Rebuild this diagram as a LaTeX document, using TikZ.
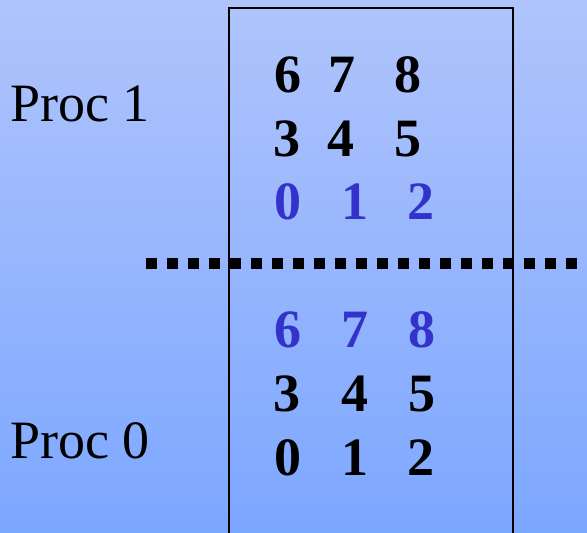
\documentclass[tikz,border=0pt]{standalone}
\usepackage{fontspec}
\setmainfont{Liberation Serif}
\definecolor{bgtop}{RGB}{176,196,252}
\definecolor{bgbot}{RGB}{124,167,255}
\definecolor{ghost}{RGB}{51,51,204}
\begin{document}
\begin{tikzpicture}[x=1pt,y=1pt,
  dig/.style={anchor=base,inner sep=0pt,font=\fontsize{54}{54}\selectfont\bfseries},
  ghostdig/.style={dig,text=ghost},
  proclabel/.style={anchor=base west,inner sep=0pt,font=\fontsize{54}{54}\selectfont}]
\useasboundingbox (0,0) rectangle (587,533);
\clip (0,0) rectangle (587,533);
\shade[top color=bgtop,bottom color=bgbot] (0,0) rectangle (587,533);
\draw[line width=1.5pt] (229,-5) -- (229,525) -- (513,525) -- (513,-5);
\draw[line width=11pt,dash pattern=on 11pt off 10pt] (146,269) -- (590,269);
% labels
\node[proclabel] (p1) at (10,411) {Proc 1};
\node[proclabel] (p0) at (10,74) {Proc 0};
% upper block
\node[dig] (u6) at (287.5,440) {6};
\node[dig] (u7) at (341.5,440) {7};
\node[dig] (u8) at (408,440) {8};
\node[dig] (u3) at (287,376.5) {3};
\node[dig] (u4) at (341,376.5) {4};
\node[dig] (u5) at (408,376.5) {5};
\node[ghostdig] (u0) at (288,313) {0};
\node[ghostdig] (u1) at (354.5,313) {1};
\node[ghostdig] (u2) at (421,313) {2};
% lower block
\node[ghostdig] (l6) at (287.5,185) {6};
\node[ghostdig] (l7) at (354.7,185) {7};
\node[ghostdig] (l8) at (421.7,185) {8};
\node[dig] (l3) at (287,121) {3};
\node[dig] (l4) at (354.7,121) {4};
\node[dig] (l5) at (421.7,121) {5};
\node[dig] (l0) at (287.5,57.3) {0};
\node[dig] (l1) at (354.5,57.3) {1};
\node[dig] (l2) at (421,57.3) {2};
\end{tikzpicture}
\end{document}
